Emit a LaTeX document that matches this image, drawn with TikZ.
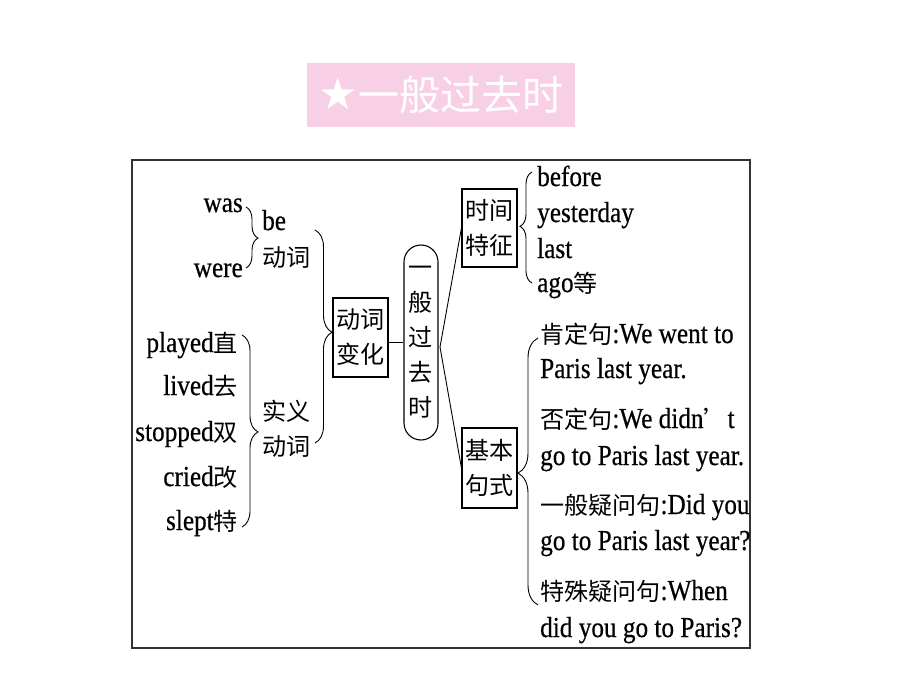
\documentclass[tikz,border=0pt]{standalone}
\usepackage{fontspec}
\setmainfont[FakeStretch=0.87,FakeBold=0.5]{Liberation Serif}
\newfontfamily\cjk[Scale=0.83]{Noto Sans CJK SC}
\newfontfamily\titlecjk{Noto Sans CJK SC}
\newfontfamily\symfont{DejaVu Sans}
\usetikzlibrary{decorations.pathreplacing}
\newcommand\zh[1]{{\cjk #1}}
\definecolor{titlepink}{RGB}{248,208,230}
\begin{document}
\begin{tikzpicture}[x=1pt,y=-1pt,
 txt/.style={font=\fontsize{29}{34}\selectfont, inner sep=0pt},
 box/.style={draw, line width=1.1pt, inner sep=0pt, align=center, font=\fontsize{29}{35}\selectfont},
 brc/.style={decorate, line width=0.9pt, decoration={brace, amplitude=#1}},
 link/.style={line width=0.9pt}]
\useasboundingbox (0,0) rectangle (920,690);
\fill[white] (0,0) rectangle (920,690);
% title
\node[fill=titlepink, text=white, inner sep=0pt, minimum width=268pt, minimum height=64pt,
  font=\fontsize{41}{41}\selectfont] (title) at (441,95) {\raisebox{1pt}{{\symfont\fontsize{44}{44}\selectfont ★}}{\titlecjk 一般过去时}};
% frame
\node[draw=black!80, line width=1.5pt, minimum width=618pt, minimum height=488pt, inner sep=0pt] (frame) at (441,404) {};
% left: be
\node[txt, anchor=base east] (was) at (243,212) {was};
\node[txt, anchor=base east] (were) at (243,277) {were};
\node[txt, anchor=base west] (be) at (262,230) {be};
\node[txt, anchor=base west] (bedong) at (262,266) {\zh{动词}};
% left: regular
\node[txt, anchor=base east] (played) at (238,352) {played\zh{直}};
\node[txt, anchor=base east] (lived) at (238,395) {lived\zh{去}};
\node[txt, anchor=base east] (stopped) at (238,441) {stopped\zh{双}};
\node[txt, anchor=base east] (cried) at (238,486) {cried\zh{改}};
\node[txt, anchor=base east] (slept) at (238,530) {slept\zh{特}};
\node[txt, anchor=base west] (shiyi) at (262,420) {\zh{实义}};
\node[txt, anchor=base west] (shidong) at (262,455) {\zh{动词}};
% boxes
\node[box, minimum width=55pt, minimum height=79pt] (verbchg) at (360.5,337.5) {\zh{动词}\\\zh{变化}};
\node[box, rounded corners=17pt, minimum width=34pt, minimum height=195pt] (tense) at (421,342.5)
  {\zh{一}\\\zh{般}\\\zh{过}\\\zh{去}\\\zh{时}};
\node[box, minimum width=55pt, minimum height=78pt] (timefeat) at (489.5,228) {\zh{时间}\\\zh{特征}};
\node[box, minimum width=55pt, minimum height=80pt] (basic) at (489.5,468) {\zh{基本}\\\zh{句式}};
% right: time words
\node[txt, anchor=base west] (before) at (537,186) {before};
\node[txt, anchor=base west] (yesterday) at (537,222) {yesterday};
\node[txt, anchor=base west] (last) at (537,258) {last};
\node[txt, anchor=base west] (ago) at (537,292) {ago\zh{等}};
% right: sentences
\node[txt, anchor=base west] (s1) at (540,343) {\zh{肯定句}:We went to};
\node[txt, anchor=base west] (s2) at (540,378) {Paris last year.};
\node[txt, anchor=base west] (s3) at (540,428) {\zh{否定句}:We didn\zh{’}t};
\node[txt, anchor=base west] (s4) at (540,465) {go to Paris last year.};
\node[txt, anchor=base west] (s5) at (540,514) {\zh{一般疑问句}:Did you};
\node[txt, anchor=base west] (s6) at (540,550) {go to Paris last year?};
\node[txt, anchor=base west] (s7) at (540,600) {\zh{特殊疑问句}:When};
\node[txt, anchor=base west] (s8) at (540,637) {did you go to Paris?};
% brace end points
\coordinate (b1t) at (246,207); \coordinate (b1b) at (246,268);
\coordinate (b2t) at (315,230); \coordinate (b2b) at (315,443);
\coordinate (b3t) at (242,335); \coordinate (b3b) at (242,527);
\coordinate (b4t) at (532,172); \coordinate (b4b) at (532,283);
\coordinate (b5t) at (538,338); \coordinate (b5b) at (538,605);
\draw[brc=12pt, decoration={aspect=0.51}] (b1t) -- (b1b);
\draw[brc=17pt, decoration={aspect=0.48}] (b2t) -- (b2b);
\draw[brc=16pt, decoration={aspect=0.505}] (b3t) -- (b3b);
\draw[brc=12pt, decoration={aspect=0.51}] (b4b) -- (b4t);
\draw[brc=20pt, decoration={aspect=0.494}] (b5b) -- (b5t);
% connectors
\draw[link] (verbchg.east |- tense.west) -- (tense.west);
\coordinate (fork) at (440,347);
\draw[link] (timefeat.west) -- (fork) -- (basic.west);
\end{tikzpicture}
\end{document}
